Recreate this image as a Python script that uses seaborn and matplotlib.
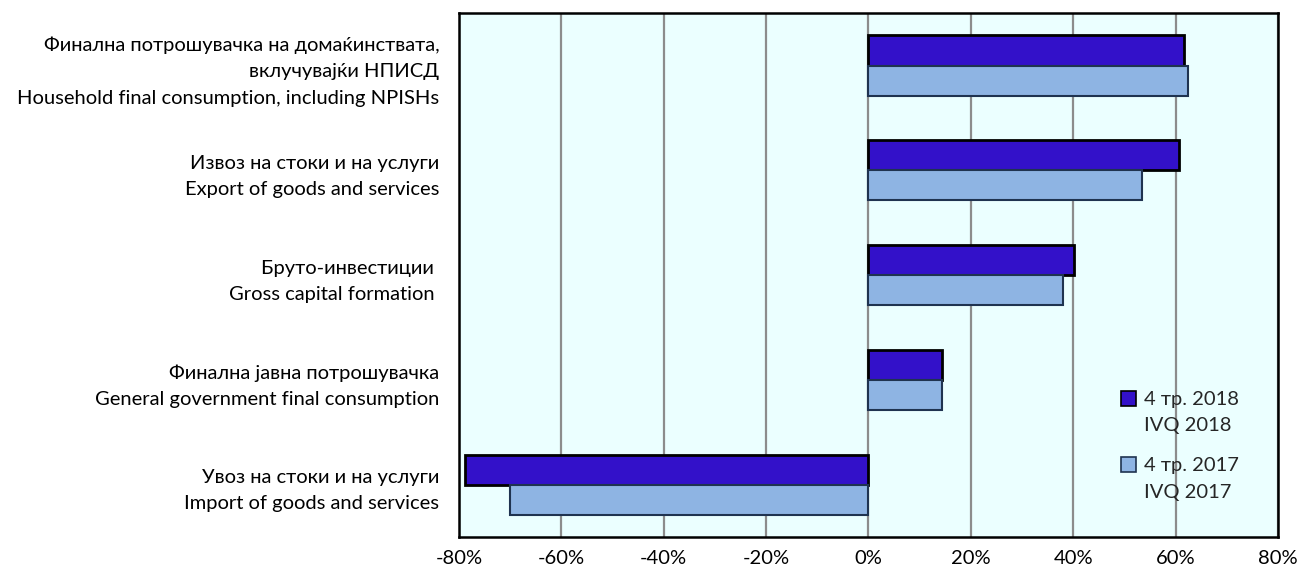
import numpy as np
import pandas as pd
import matplotlib.pyplot as plt
import seaborn as sns
from matplotlib.ticker import FuncFormatter
from matplotlib.legend_handler import HandlerPatch

categories = [
    'Финална потрошувачка на домаќинствата,\nвклучувајќи НПИСД\nHousehold final consumption, including NPISHs',
    'Извоз на стоки и на услуги\nExport of goods and services',
    'Бруто-инвестиции \nGross capital formation ',
    'Финална јавна потрошувачка\nGeneral government final consumption',
    'Увоз на стоки и на услуги\nImport of goods and services',
]
q4_2018 = [61.7, 60.6, 40.2, 14.4, -78.8]
q4_2017 = [62.5, 53.4, 38.1, 14.4, -70.1]
series_names = ['4 тр. 2018\nIVQ 2018', '4 тр. 2017\nIVQ 2017']

df = pd.DataFrame({
    'category': categories * 2,
    'value': q4_2018 + q4_2017,
    'period': [series_names[0]] * 5 + [series_names[1]] * 5,
})

sns.set_style('white')
plt.rcParams['font.family'] = ['Lato', 'DejaVu Sans']

fig, ax = plt.subplots(figsize=(13, 5.75), dpi=100)
fig.subplots_adjust(left=0.353, right=0.983, top=0.977, bottom=0.066)

colors = ['#3311C9', '#8EB4E3']
edges = ['#000000', '#1F3350']
sns.barplot(data=df, y='category', x='value', hue='period', order=categories,
            hue_order=series_names, palette=colors, orient='h', width=0.575,
            saturation=1, ax=ax, legend=False)

for cont, ec, lw in zip(ax.containers, edges, [2, 1.5]):
    for bar in cont:
        bar.set_edgecolor(ec)
        bar.set_linewidth(lw)

ax.set_facecolor('#EBFFFF')
ax.set_xlim(-80, 80)
ax.set_xticks(np.arange(-80, 81, 20))
ax.xaxis.set_major_formatter(FuncFormatter(lambda v, p: f'{v:.0f}%'))
ax.grid(axis='x', color='#8C8C8C', linewidth=1.6)
ax.set_axisbelow(True)
ax.set_xlabel('')
ax.set_ylabel('')
ax.tick_params(axis='both', length=0, labelsize=14.5, colors='black')
ax.tick_params(axis='y', pad=14)
ax.tick_params(axis='x', pad=9)
for lab in ax.get_yticklabels():
    lab.set_horizontalalignment('right')
    lab.set_multialignment('right')
    lab.set_linespacing(1.65)
for s in ax.spines.values():
    s.set_visible(True)
    s.set_color('black')
    s.set_linewidth(1.8)


# put the legend square next to the first line of each two-line label
def top_square(legend, orig_handle, xdescent, ydescent, width, height, fontsize):
    return plt.Rectangle((-xdescent, -ydescent + fontsize * 0.72), width, height)


handles = [plt.Rectangle((0, 0), 1, 1, facecolor=c, edgecolor=e, linewidth=1.2)
           for c, e in zip(colors, edges)]
leg = ax.legend(handles, series_names, loc='lower right', bbox_to_anchor=(0.975, 0.035),
                frameon=False, fontsize=14.5, handlelength=0.75, handleheight=0.75,
                handletextpad=0.4, labelspacing=1.15,
                handler_map={plt.Rectangle: HandlerPatch(patch_func=top_square)})
for t in leg.get_texts():
    t.set_linespacing(1.65)

fig.savefig('out.png', dpi=100, facecolor='white')
